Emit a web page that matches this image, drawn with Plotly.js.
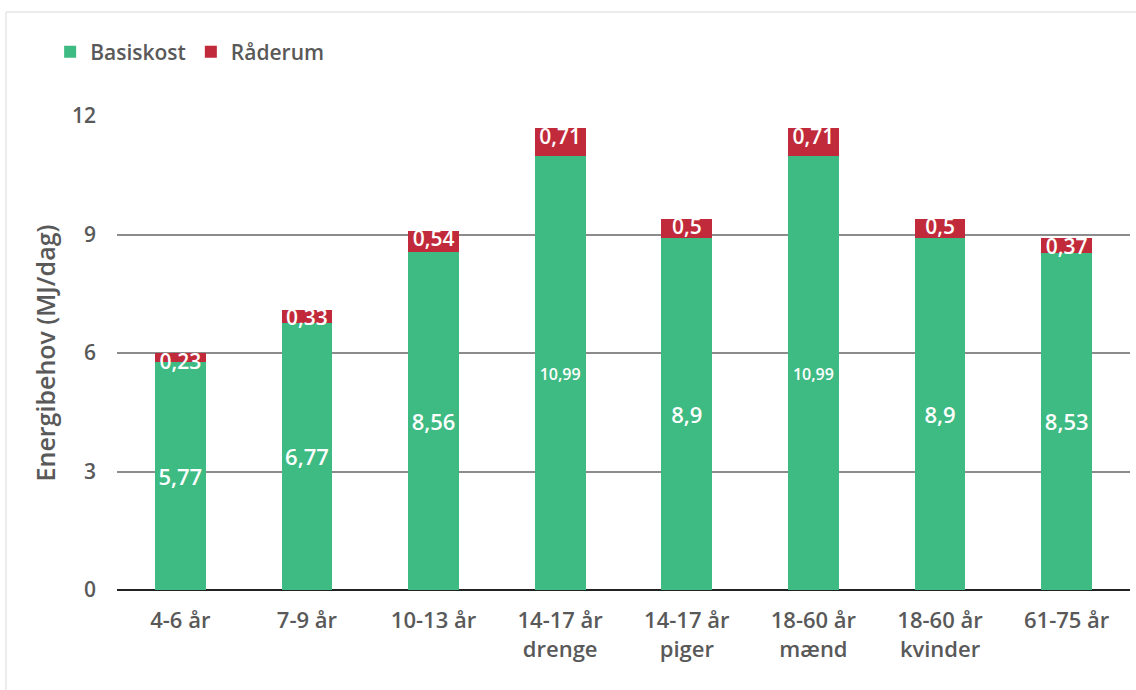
<!DOCTYPE html>
<html><head><meta charset="utf-8">
<script src="https://cdn.plot.ly/plotly-3.0.1.min.js"></script>
<style>html,body{margin:0;padding:0;background:#fff}#chart{width:1136px;height:690px}</style>
</head><body><div id="chart"></div>
<script>
const categories = ["4-6 år","7-9 år","10-13 år","14-17 år<br>drenge","14-17 år<br>piger","18-60 år<br>mænd","18-60 år<br>kvinder","61-75 år"];
const basiskost = [5.77, 6.77, 8.56, 10.99, 8.9, 10.99, 8.9, 8.53];
const raaderum = [0.23, 0.33, 0.54, 0.71, 0.5, 0.71, 0.5, 0.37];
const yTicks = [0, 3, 6, 9, 12];

const fmt = v => String(v).replace('.', ',');
const green = '#3EBA83', red = '#C12A3A', txt = '#595959';
const FONT = 'Open Sans, Noto Sans, sans-serif';

const traces = [
  {type:'bar', name:'Basiskost', x:categories, y:basiskost, marker:{color:green, line:{width:0}}, hoverinfo:'skip'},
  {type:'bar', name:'Råderum', x:categories, y:raaderum, marker:{color:red, line:{width:0}}, hoverinfo:'skip'},
  {type:'scatter', mode:'text', x:categories, y:basiskost.map(v=>v/2 - 0.08), text:basiskost.map(fmt),
   textfont:{color:'#fff', size:basiskost.map(v=>fmt(v).length>4?16:22), family:FONT, weight:600}, showlegend:false, hoverinfo:'skip', cliponaxis:false},
  {type:'scatter', mode:'text', x:categories, y:basiskost.map((v,i)=>v+raaderum[i]), text:raaderum.map(fmt),
   textposition:'bottom center',
   textfont:{color:'#fff', size:21, family:FONT, weight:600}, showlegend:false, hoverinfo:'skip', cliponaxis:false}
];

const layout = {
  width:1136, height:690,
  margin:{l:117, r:6, t:116, b:100},
  barmode:'stack', bargap:0.6,
  paper_bgcolor:'#fff', plot_bgcolor:'#fff',
  font:{family:FONT, color:txt, size:20, weight:600},
  showlegend:true,
  legend:{orientation:'h', x:-0.066, xanchor:'left', y:1.135, yanchor:'middle', font:{size:21, color:txt, weight:600}, traceorder:'normal', itemwidth:30},
  xaxis:{type:'category', tickfont:{size:22, color:txt, weight:600}, showgrid:false, showline:false, ticks:'', fixedrange:true, ticklabelstandoff:15},
  yaxis:{range:[0,12], tickvals:yTicks, ticktext:yTicks.map(String), tickfont:{size:21, color:txt, weight:600},
    showgrid:true, gridcolor:'#8c8c8c', gridwidth:2, zeroline:true, zerolinecolor:'#222', zerolinewidth:2,
    showline:false, ticks:'', ticklabelstandoff:20,
    title:{text:'Energibehov (MJ/dag)', font:{size:25, color:txt, weight:600}, standoff:9}},
  shapes:[{type:'rect', xref:'paper', yref:'paper', x0:-0.1096, x1:1.2, y0:-0.4, y1:1.2194, line:{color:'#d9d9d9', width:1}, fillcolor:'rgba(0,0,0,0)', layer:'below'}]
};
Plotly.newPlot('chart', traces, layout, {displayModeBar:false, staticPlot:true});
</script></body></html>
